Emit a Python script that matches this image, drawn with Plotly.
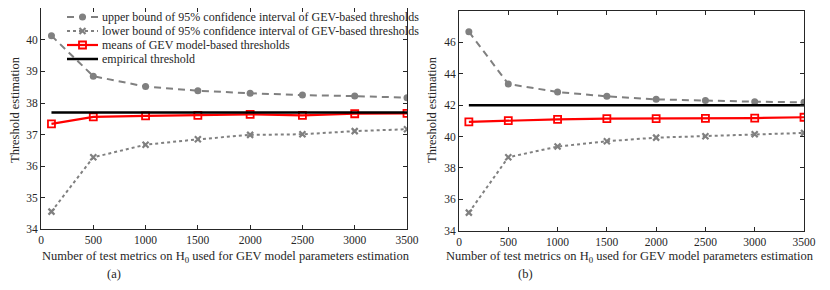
import plotly.graph_objects as go

x = [100, 500, 1000, 1500, 2000, 2500, 3000, 3500]

# panel (a)
upper_a = [40.13, 38.85, 38.52, 38.39, 38.31, 38.25, 38.22, 38.17]
lower_a = [34.56, 36.28, 36.68, 36.85, 36.99, 37.01, 37.11, 37.17]
mean_a = [37.34, 37.56, 37.59, 37.61, 37.64, 37.61, 37.66, 37.67]
emp_a = 37.70

# panel (b)
upper_b = [46.68, 43.35, 42.84, 42.56, 42.37, 42.29, 42.22, 42.18]
lower_b = [35.15, 38.68, 39.36, 39.70, 39.93, 40.02, 40.15, 40.23]
mean_b = [40.93, 41.01, 41.10, 41.14, 41.14, 41.16, 41.18, 41.23]
emp_b = 42.0

x_ticks = [0, 500, 1000, 1500, 2000, 2500, 3000, 3500]
names = [
    "upper bound of 95% confidence interval of GEV-based thresholds",
    "lower bound of 95% confidence interval of GEV-based thresholds",
    "means of GEV model-based thresholds",
    "empirical threshold",
]

GREY = "rgb(128,128,128)"
FONT = "Liberation Serif"
TXT = "#262626"

# page body has an 8px margin; the figure is sized to fit the 830x290 window
OFF = 8
FW, FH = 814, 274


def px(v):
    return (v - OFF) / FW


def py(v):
    return 1 - (v - OFF) / FH


styles = [
    dict(mode="lines+markers", line=dict(color=GREY, width=2, dash="7px,5px"),
         marker=dict(symbol="circle", size=7, color=GREY)),
    dict(mode="lines+markers", line=dict(color=GREY, width=2, dash="dot"),
         marker=dict(symbol="x-thin", size=6, color=GREY,
                     line=dict(color=GREY, width=2.2))),
    dict(mode="lines+markers", line=dict(color="red", width=2.2),
         marker=dict(symbol="square-open", size=7, color="red",
                     line=dict(color="red", width=1.8))),
    dict(mode="lines", line=dict(color="black", width=2.5)),
]

fig = go.Figure()


def add_panel(up, lo, me, emp, xa, ya):
    series = [(x, up), (x, lo), (x, me), ([x[0], x[-1]], [emp, emp])]
    for (xs, ys), st, nm in zip(series, styles, names):
        fig.add_trace(go.Scatter(x=xs, y=ys, name=nm, showlegend=False,
                                 xaxis=xa, yaxis=ya, **st))


add_panel(upper_a, lower_a, mean_a, emp_a, "x", "y")
add_panel(upper_b, lower_b, mean_b, emp_b, "x2", "y2")

# compact legend drawn on a full-page pixel axis (rows 14 px apart)
leg_rows = [17, 31, 45, 59]
leg_x0, leg_x1, leg_tx = 67, 98, 100
for row, st, nm in zip(leg_rows, styles, names):
    fig.add_trace(go.Scatter(x=[leg_x0, leg_x1], y=[row, row], mode="lines",
                             line=st["line"], showlegend=False,
                             hoverinfo="skip", xaxis="x3", yaxis="y3"))
    if "marker" in st:
        fig.add_trace(go.Scatter(x=[(leg_x0 + leg_x1) / 2], y=[row],
                                 mode="markers", marker=st["marker"],
                                 showlegend=False, hoverinfo="skip",
                                 xaxis="x3", yaxis="y3"))
    fig.add_annotation(xref="x3", yref="y3", x=leg_tx, y=row, text=nm,
                       showarrow=False, xanchor="left", yanchor="middle",
                       font=dict(family=FONT, size=12, color=TXT))

axis_common = dict(
    showline=True, linecolor=TXT, linewidth=1, mirror="ticks",
    ticks="inside", ticklen=4, tickcolor=TXT, showgrid=False,
    zeroline=False, automargin=False,
    tickfont=dict(family=FONT, size=11.5, color=TXT),
)

fig.update_layout(
    width=FW, height=FH, autosize=False,
    margin=dict(l=0, r=0, t=0, b=0),
    paper_bgcolor="white", plot_bgcolor="rgba(0,0,0,0)",
    font=dict(family=FONT, size=11, color=TXT),
    showlegend=False,
    xaxis=dict(domain=[px(41), px(407)], range=[0, 3500], tickvals=x_ticks,
               anchor="y", **axis_common),
    yaxis=dict(domain=[py(229.3), py(8.3)], range=[34, 41], dtick=1,
               anchor="x", **axis_common),
    xaxis2=dict(domain=[px(459), px(804)], range=[0, 3500], tickvals=x_ticks,
                anchor="y2", **axis_common),
    yaxis2=dict(domain=[py(230.7), py(11)], range=[34, 48], dtick=2,
                anchor="x2", **axis_common),
    xaxis3=dict(domain=[0, 1], range=[OFF, OFF + FW], visible=False,
                fixedrange=True, automargin=False, anchor="y3"),
    yaxis3=dict(domain=[0, 1], range=[OFF + FH, OFF], visible=False,
                fixedrange=True, automargin=False, anchor="x3"),
)

ann = [
    dict(text="Number of test metrics on H<sub>0</sub> used for GEV model parameters estimation",
         x=px(226), y=py(257), yanchor="middle"),
    dict(text="Number of test metrics on H<sub>0</sub> used for GEV model parameters estimation",
         x=px(630), y=py(257), yanchor="middle"),
    dict(text="(a)", x=px(114), y=0, yanchor="bottom"),
    dict(text="(b)", x=px(525), y=0, yanchor="bottom"),
    dict(text="Threshold estimation", x=px(15), y=py(110), textangle=-90,
         yanchor="middle"),
    dict(text="Threshold estimation", x=px(432), y=py(110), textangle=-90,
         yanchor="middle"),
]
for a in ann:
    fig.add_annotation(xref="paper", yref="paper", showarrow=False,
                       xanchor="center", borderpad=0,
                       font=dict(family=FONT, size=12.5, color=TXT), **a)

fig.write_html("out.html")
